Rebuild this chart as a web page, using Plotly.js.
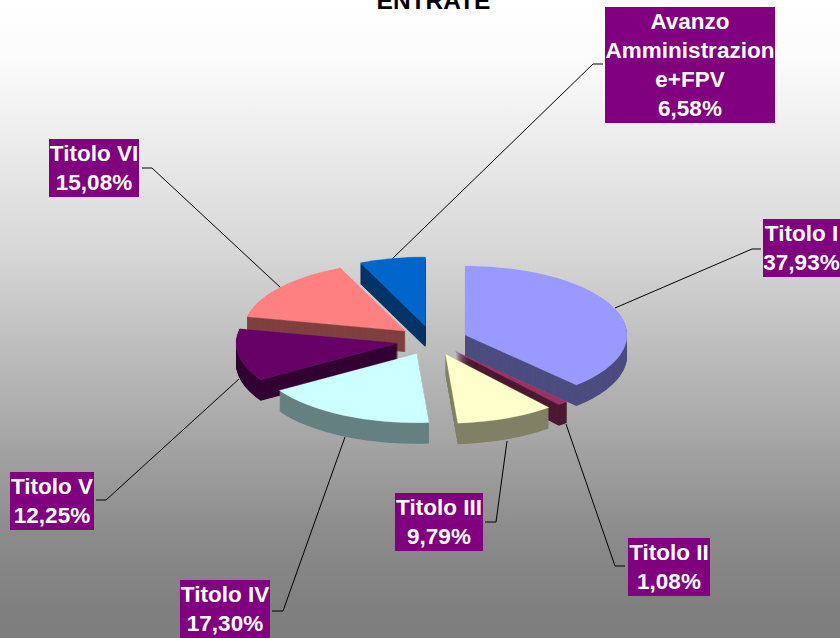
<!DOCTYPE html>
<html>
<head>
<meta charset="utf-8">
<script src="https://cdn.plot.ly/plotly-3.0.1.min.js"></script>
<style>
html,body{margin:0;padding:0;background:#fff;overflow:hidden}
#chart{width:840px;height:638px;background:linear-gradient(to bottom,#ffffff 0px,#fbfbfb 60px,#eeeeee 130px,#d6d6d6 255px,#b2b2b2 390px,#a5a5a5 440px,#8c8c8c 530px,#7f7f7f 610px,#7e7e7e 638px)}
</style>
</head>
<body>
<div id="chart"></div>
<script>
const W = 840, H = 638;

// Data
const categories = ['Titolo I','Titolo II','Titolo III','Titolo IV','Titolo V','Titolo VI','Avanzo Amministrazione+FPV'];
const values = [37.93,1.08,9.79,17.30,12.25,15.08,6.58];
const labelLines = [['Titolo I'],['Titolo II'],['Titolo III'],['Titolo IV'],['Titolo V'],['Titolo VI'],['Avanzo','Amministrazion','e+FPV']];

// Styles
const topColors  = ['#9999FF','#993366','#FFFFCC','#CCFFFF','#660066','#FF8080','#0066CC'];
const sideColors = ['#4D4D80','#4D1A33','#808066','#668080','#330033','#804040','#003366'];
const edgeColors = ['#A8A8FF','#993366','#FFFFCC','#DDFFFF','#703070','#FF9090','#2F80D0'];

// Label boxes [left, top, right, bottom] in page pixels
const boxes = [
  [763,219,840,277],[628,538,710,596],[395,493,483,551],[180,580,270,638],
  [10,472,94,530],[49,139,139,197],[605,7,775,123]
];
// Leader polylines in page pixels
const leaders = [
  [[761,249],[752,249],[615,308]],
  [[625,566],[615,566],[566,424]],
  [[485,522],[496,522],[507,441]],
  [[272,611],[283,611],[345,437]],
  [[96,500],[106,500],[239,379]],
  [[142,168],[152,168],[281,288]],
  [[603,64],[593,64],[391,260]]
];

// Pie geometry (page pixels)
const cx = 432.5, cy = 340.5, rx = 162, squash = 0.426, depth = 21, layerStep = 0.5, pull = 0.216;
const y0 = 250; // unsquashed centre of the top face
const dom = 2 * rx * (1 + pull);

function pieLayer(d){
  const yc = y0 + d / squash;
  const isTop = d === 0;
  return {
    type:'pie', values:values, labels:categories, sort:false, direction:'clockwise', rotation:0,
    pull:values.map(()=>pull), textinfo:'none', hoverinfo:'skip', showlegend:false,
    domain:{x:[(cx-dom/2)/W,(cx+dom/2)/W], y:[1-(yc+dom/2)/H,1-(yc-dom/2)/H]},
    marker:{colors:isTop?topColors:sideColors, line:{width:isTop?0.4:0, color:isTop?edgeColors:sideColors}}
  };
}
const traces = [];
for(let d=depth;d>=0;d-=layerStep) traces.push(pieLayer(d));

const px = x => x / W, py = y => 1 - y / H;

const annotations = categories.map((c,i)=>{
  const b = boxes[i];
  const txt = labelLines[i].concat(values[i].toFixed(2).replace('.',',')+'%').join('<br>');
  return {
    xref:'paper', yref:'paper', x:px(b[0]), y:py(b[1]), xanchor:'left', yanchor:'top',
    width:b[2]-b[0], height:b[3]-b[1], text:'<b>'+txt+'</b>', showarrow:false, align:'center', valign:'middle',
    bgcolor:'#800080', borderwidth:0, borderpad:0,
    font:{family:'Liberation Sans, Arial, sans-serif', size:22.5, color:'#ffffff'}
  };
});

const shapes = [];
leaders.forEach(l=>{
  for(let i=0;i<l.length-1;i++){
    shapes.push({type:'line', xref:'paper', yref:'paper', layer:'below',
      x0:px(l[i][0]), y0:py(l[i][1]), x1:px(l[i+1][0]), y1:py(l[i+1][1]),
      line:{color:'#000000', width:1}});
  }
});

const layout = {
  width:W, height:H, margin:{l:0,r:0,t:0,b:0},
  paper_bgcolor:'rgba(0,0,0,0)', plot_bgcolor:'rgba(0,0,0,0)',
  showlegend:false,
  title:{text:'<b>ENTRATE</b>', x:433.5/W, xanchor:'center', y:1, yanchor:'middle', yref:'container',
         font:{family:'Liberation Sans, Arial, sans-serif', size:24.5, color:'#000000'}},
  annotations:annotations, shapes:shapes
};

const gd = document.getElementById('chart');
function squashPies(){
  const T = cy - squash * y0;
  gd.querySelectorAll('.pielayer').forEach(g=>g.setAttribute('transform','translate(0,'+T+') scale(1,'+squash+')'));
}
Plotly.newPlot(gd,traces,layout,{displayModeBar:false,staticPlot:true}).then(()=>{
  squashPies();
  gd.on('plotly_afterplot',squashPies);
});
</script>
</body>
</html>
